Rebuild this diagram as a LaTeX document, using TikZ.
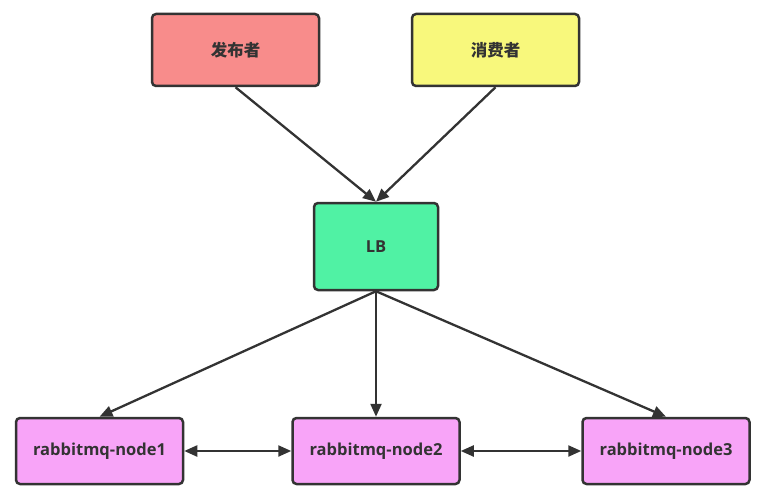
\documentclass[tikz,border=0pt]{standalone}
\usepackage{fontspec}
\setmainfont{Open Sans}
\newfontfamily\cjk{Noto Sans CJK SC}
\usetikzlibrary{arrows.meta}

\definecolor{boxline}{HTML}{333333}
\definecolor{pubred}{HTML}{F88C8B}
\definecolor{conyellow}{HTML}{F8F87C}
\definecolor{lbgreen}{HTML}{50F2A4}
\definecolor{mqpink}{HTML}{F8A4F8}

\begin{document}
\begin{tikzpicture}[
  x=1pt,
  y=-1pt,
  line join=round,
  box/.style={draw=boxline,line width=2.5pt,rounded corners=4pt,
    font=\fontsize{16.5}{18}\selectfont\bfseries,text=boxline},
  flow/.style={draw=boxline,line width=2.3pt,-{Triangle[length=13pt,width=11pt]}},
  peer/.style={draw=boxline,line width=2.3pt,
    {Triangle[length=13pt,width=11pt]}-{Triangle[length=13pt,width=11pt]}}
]
  % Keep the frame of the original artwork.
  \useasboundingbox (0,0) rectangle (764,495);

  % Clients on top.
  \node[box,fill=pubred,minimum width=167pt,minimum height=72pt] (pub) at (235.5,50) {\cjk 发布者};
  \node[box,fill=conyellow,minimum width=167pt,minimum height=72pt] (con) at (495.5,50) {\cjk 消费者};

  % Load balancer in the middle.
  \node[box,fill=lbgreen,minimum width=124pt,minimum height=87pt] (lb) at (376,246.5) {LB};

  % Cluster nodes.
  \node[box,fill=mqpink,minimum width=167pt,minimum height=66pt] (n1) at (99.5,451) {rabbitmq-node1};
  \node[box,fill=mqpink,minimum width=167pt,minimum height=66pt] (n2) at (376,451) {rabbitmq-node2};
  \node[box,fill=mqpink,minimum width=167pt,minimum height=66pt] (n3) at (666,451) {rabbitmq-node3};

  \draw[flow] (pub.south) -- (lb.north);
  \draw[flow] (con.south) -- (lb.north);
  \foreach \n in {n1,n2,n3} {
    \draw[flow] (lb.south) -- (\n.north);
  }

  \draw[peer] (n1.east) -- (n2.west);
  \draw[peer] (n2.east) -- (n3.west);
\end{tikzpicture}
\end{document}
